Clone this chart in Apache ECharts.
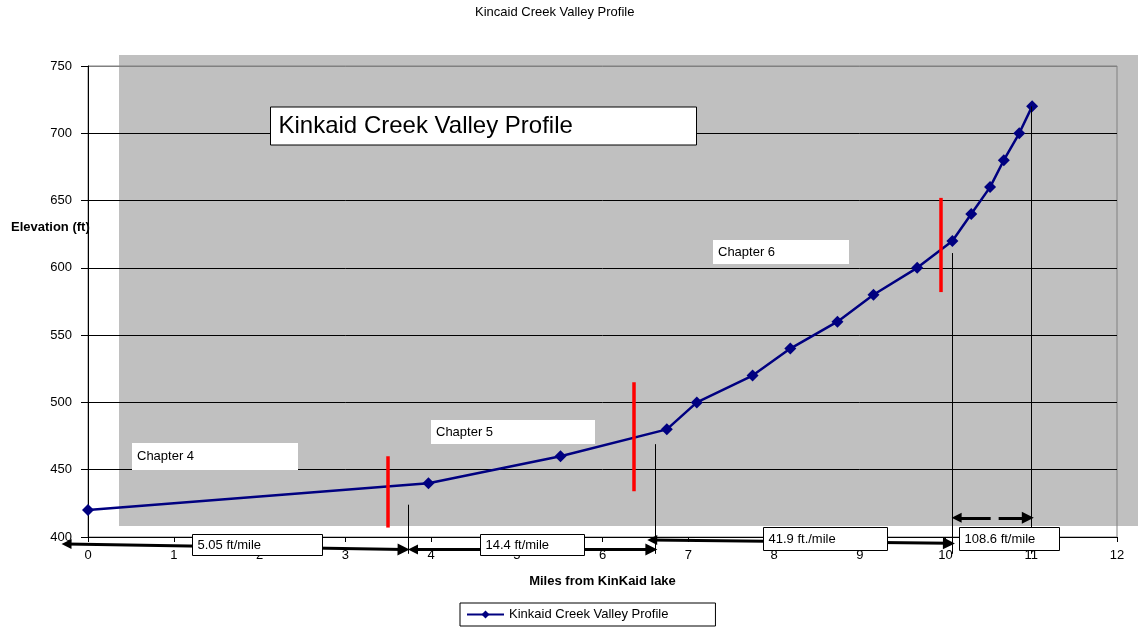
<!DOCTYPE html>
<html>
<head>
<meta charset="utf-8">
<script src="https://cdn.jsdelivr.net/npm/echarts@6/dist/echarts.min.js"></script>
<style>html,body{margin:0;padding:0;background:#fff;}#c{width:1138px;height:628px;}</style>
</head>
<body>
<div id="c"></div>
<script>
// ---- data ----
const miles = [0, 3.97, 5.51, 6.75, 7.1, 7.75, 8.19, 8.74, 9.16, 9.67, 10.08, 10.3, 10.52, 10.68, 10.86, 11.01];
const elevation = [420, 440, 460, 480, 500, 520, 540, 560, 580, 600, 620, 640, 660, 680, 700, 720];
const xTicks = [0, 1, 2, 3, 4, 5, 6, 7, 8, 9, 10, 11, 12];
const yTicks = [400, 450, 500, 550, 600, 650, 700, 750];
// chapter boundaries (red): [mile, fromElev, toElev]
const chapterBreaks = [[3.5, 407, 460], [6.36, 434, 515], [9.95, 582, 652]];
// segment dividers (thin black): [mile, fromElev, toElev]
const segmentDividers = [[3.74, 387.5, 424], [6.62, 387.5, 469], [10.08, 387.5, 611], [11.0, 387.5, 720]];
// slope arrows: [x1, y1, x2, y2]
const slopeArrows = [[-0.25, 394.8, 3.68, 390.7], [3.79, 390.8, 6.57, 390.8], [6.58, 397.8, 10.04, 395.3]];
const slopeArrowsDashed = [[10.13, 414.3, 10.96, 414.3]];
const slopeLabels = ['5.05 ft/mile', '14.4 ft/mile', '41.9 ft./mile', '108.6 ft/mile'];
const chapterLabels = ['Chapter 4', 'Chapter 5', 'Chapter 6'];
const seriesName = 'Kinkaid Creek Valley Profile';
const chartTitle = 'Kincaid Creek Valley Profile';

const FONT = '"Liberation Sans", Arial, sans-serif';
const chart = echarts.init(document.getElementById('c'), null, {renderer: 'canvas'});

function box(x, y, w, h, text, fs, border, tx) {
  return [
    {type: 'rect', z: 100, shape: {x: x, y: y, width: w, height: h},
     style: {fill: '#fff', stroke: border ? '#000' : null, lineWidth: border ? 1 : 0}},
    {type: 'text', z: 101, x: x + (tx || 5), y: y + h / 2,
     style: {text: text, font: fs + 'px ' + FONT, fill: '#000', textVerticalAlign: 'middle', verticalAlign: 'middle'}}
  ];
}

const graphics = [
  {type: 'rect', z: -10, shape: {x: 119, y: 55, width: 1019, height: 471}, style: {fill: '#c0c0c0'}},
  {type: 'text', z: 50, x: 11, y: 227.5,
   style: {text: 'Elevation (ft)', font: 'bold 13px ' + FONT, fill: '#000', verticalAlign: 'middle'}}
].concat(
  box(270.5, 107, 426, 38, seriesName, 24, true, 8),
  box(132, 443, 166, 27, chapterLabels[0], 13, false, 5),
  box(431, 420, 164, 24, chapterLabels[1], 13, false, 5),
  box(713, 240, 136, 24, chapterLabels[2], 13, false, 5),
  box(192.5, 534.5, 130, 21, slopeLabels[0], 13, true, 5),
  box(480.5, 534.5, 104, 21, slopeLabels[1], 13, true, 5),
  box(763.5, 527.5, 124, 23, slopeLabels[2], 13, true, 5),
  box(959.5, 527.5, 100, 23, slopeLabels[3], 13, true, 5)
);

const gridColors = yTicks.map((v, i) => i === yTicks.length - 1 ? '#808080' : '#000');

const option = {
  animation: false,
  backgroundColor: '#fff',
  textStyle: {fontFamily: FONT},
  title: {
    text: chartTitle, left: 475, top: 6, padding: 0,
    textStyle: {fontSize: 13, fontWeight: 'normal', color: '#000', fontFamily: FONT}
  },
  grid: {left: 88, right: 21, top: 66, bottom: 91, show: true, borderColor: '#808080', borderWidth: 1, backgroundColor: 'transparent'},
  xAxis: {
    type: 'value', min: xTicks[0], max: xTicks[xTicks.length - 1], interval: 1,
    name: 'Miles from KinKaid lake', nameLocation: 'middle', nameGap: 38,
    nameTextStyle: {fontSize: 13, fontWeight: 'bold', color: '#000', fontFamily: FONT},
    axisLine: {show: true, onZero: false, lineStyle: {color: '#000', width: 1}},
    axisTick: {show: true, length: 5, lineStyle: {color: '#000'}},
    axisLabel: {fontSize: 13, color: '#000', margin: 12, fontFamily: FONT},
    splitLine: {show: false}
  },
  yAxis: {
    type: 'value', min: yTicks[0], max: yTicks[yTicks.length - 1], interval: 50,
    axisLine: {show: true, lineStyle: {color: '#000', width: 1}},
    axisTick: {show: true, length: 7, lineStyle: {color: '#000'}},
    axisLabel: {fontSize: 13, color: '#000', margin: 16, fontFamily: FONT},
    splitLine: {show: true, lineStyle: {color: gridColors, width: 1}}
  },
  legend: {
    data: [seriesName], left: 460, top: 603, orient: 'horizontal',
    padding: [5, 47, 5, 6], itemWidth: 37, itemHeight: 10, itemGap: 5,
    borderColor: '#000', borderWidth: 1, backgroundColor: '#fff',
    textStyle: {fontSize: 13, color: '#000', fontFamily: FONT}
  },
  series: [
    {
      name: seriesName, type: 'line', z: 2,
      data: miles.map((m, i) => [m, elevation[i]]),
      symbol: 'diamond', symbolSize: [12, 12],
      lineStyle: {color: '#000080', width: 2.5},
      itemStyle: {color: '#000080'}
    },
    {
      name: 'chapter breaks', type: 'lines', coordinateSystem: 'cartesian2d', z: 3, clip: false,
      symbol: 'none',
      lineStyle: {color: '#ff0000', width: 3.5, opacity: 1},
      data: chapterBreaks.map(b => ({coords: [[b[0], b[1]], [b[0], b[2]]]}))
    },
    {
      name: 'dividers', type: 'lines', coordinateSystem: 'cartesian2d', z: 4, clip: false,
      symbol: 'none',
      lineStyle: {color: '#000', width: 1, opacity: 1},
      data: segmentDividers.map(b => ({coords: [[b[0], b[1]], [b[0], b[2]]]}))
    },
    {
      name: 'slope arrows', type: 'lines', coordinateSystem: 'cartesian2d', z: 5, clip: false,
      symbol: ['triangle', 'triangle'], symbolSize: [10, 12],
      lineStyle: {color: '#000', width: 3, opacity: 1},
      itemStyle: {color: '#000'},
      data: slopeArrows.map(a => ({coords: [[a[0], a[1]], [a[2], a[3]]]}))
    },
    {
      name: 'slope arrows dashed', type: 'lines', coordinateSystem: 'cartesian2d', z: 5, clip: false,
      symbol: ['triangle', 'triangle'], symbolSize: [10, 12],
      lineStyle: {color: '#000', width: 3, opacity: 1, type: [34, 8]},
      itemStyle: {color: '#000'},
      data: slopeArrowsDashed.map(a => ({coords: [[a[0], a[1]], [a[2], a[3]]]}))
    }
  ],
  graphic: graphics
};
chart.setOption(option);
</script>
</body>
</html>
